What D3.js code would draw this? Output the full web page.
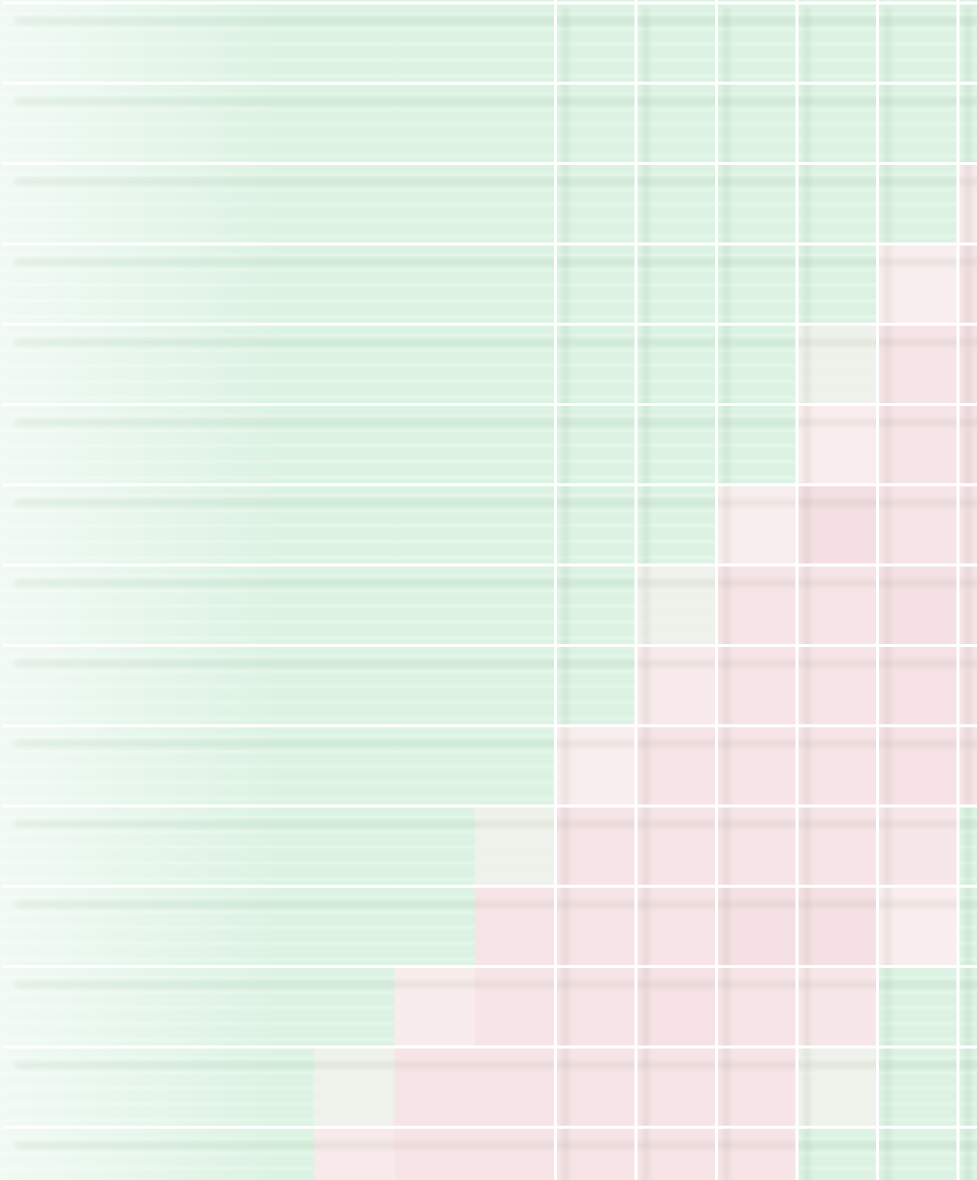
<!DOCTYPE html>
<html>
<head>
<meta charset="utf-8">
<script src="https://cdn.jsdelivr.net/npm/d3@7"></script>
<style>
  html, body { margin: 0; padding: 0; background: #fff; overflow: hidden; }
</style>
</head>
<body>
<svg id="chart" width="977" height="1180"></svg>
<script>
// columns (holding periods) and rows (start cohorts)
const periods = ["P01", "P02", "P03", "P04", "P05", "P06", "P07", "P08", "P09", "P10", "P11", "P12", "P13"];
const cohorts = ["C00", "C01", "C02", "C03", "C04", "C05", "C06", "C07", "C08", "C09", "C10", "C11", "C12", "C13", "C14", "C15"];
// only these columns carry a vertical rule
const ruledPeriods = ["P08", "P09", "P10", "P11", "P12", "P13"];

// cell values, one array per cohort (positive = green, negative = pink)
const returns = [
  [4, 4, 4, 4, 4, 4, 4, 4, 4, 4, 4, 4, 4],
  [4, 4, 4, 4, 4, 4, 4, 4, 4, 4, 4, 4, 4],
  [4, 4, 4, 4, 4, 4, 4, 4, 4, 4, 4, 4, 4],
  [4, 4, 4, 4, 4, 4, 4, 4, 4, 4, 4, 4, -2],
  [4, 4, 4, 4, 4, 4, 4, 4, 4, 4, 4, -1, -3],
  [4, 4, 4, 4, 4, 4, 4, 4, 4, 4, 0, -3, -3.5],
  [4, 4, 4, 4, 4, 4, 4, 4, 4, 4, -1.2, -3, -3.5],
  [4, 4, 4, 4, 4, 4, 4, 4, 4, -1, -4.5, -3, -3],
  [4, 4, 4, 4, 4, 4, 4, 4, 0, -3, -3, -4, -3],
  [4, 4, 4, 4, 4, 4, 4, 4, -2, -3, -3, -3.5, -3],
  [4, 4, 4, 4, 4, 4, 4, -1, -3, -3, -3, -3.5, -3],
  [4, 4, 4, 4, 4, 4, 0, -3, -3, -3, -3, -2.5, 4],
  [4, 4, 4, 4, 4, 4, -3, -3, -3, -4, -4, -1.2, 4],
  [4, 4, 4, 4, 4, -1.5, -3, -3, -3.5, -3, -2.5, 4, 4],
  [4, 4, 4, 4, 0, -3, -3, -3, -3, -3, 0, 4, 4],
  [4, 4, 4, 4, -1.8, -3, -3, -3, -3, -3, 4, 4, 4]
];

const width = 977, height = 1180;
const svg = d3.select("#chart");

const x = d3.scaleBand().domain(periods).range([-8, 1038.5]);
const y = d3.scaleBand().domain(cohorts).range([-77.3, 1207.5]);

const color = d3.scaleLinear()
  .domain([-5, -3, -1, 0, 1])
  .range(["#f3dde0", "#f7e4e6", "#f9eeee", "#eff1eb", "#dcf3e3"])
  .clamp(true);

const defs = svg.append("defs");
defs.append("filter").attr("id", "soft")
  .attr("x", "-5%").attr("y", "-5%").attr("width", "110%").attr("height", "110%")
  .append("feGaussianBlur").attr("stdDeviation", 1);
defs.append("filter").attr("id", "shade")
  .attr("x", "-10%").attr("y", "-10%").attr("width", "120%").attr("height", "120%")
  .append("feGaussianBlur").attr("stdDeviation", 2.2);
defs.append("filter").attr("id", "thin")
  .append("feGaussianBlur").attr("stdDeviation", 0.5);

const fade = defs.append("linearGradient").attr("id", "fade")
  .attr("x1", 0).attr("x2", 1).attr("y1", 0).attr("y2", 0);
fade.append("stop").attr("offset", "0%").attr("stop-color", "#fff").attr("stop-opacity", 0.6);
fade.append("stop").attr("offset", "100%").attr("stop-color", "#fff").attr("stop-opacity", 0);

const cells = [];
returns.forEach((row, i) => {
  row.forEach((v, j) => cells.push({ cohort: cohorts[i], period: periods[j], value: v }));
});

const g = svg.append("g").attr("filter", "url(#soft)");

g.selectAll(".cell")
  .data(cells)
  .join("rect")
  .attr("class", "cell")
  .attr("x", d => x(d.period))
  .attr("y", d => y(d.cohort))
  .attr("width", x.bandwidth() + 0.5)
  .attr("height", y.bandwidth() + 0.5)
  .attr("fill", d => color(d.value));

// light striping inside non-negative cells
const stripeOffsets = [11, 26, 41, 57, 73];
g.selectAll(".stripes")
  .data(cells.filter(d => d.value >= 0))
  .join("g")
  .attr("class", "stripes")
  .selectAll("line")
  .data(d => stripeOffsets.map(o => ({ d: d, o: o })))
  .join("line")
  .attr("x1", s => x(s.d.period))
  .attr("x2", s => x(s.d.period) + x.bandwidth())
  .attr("y1", s => y(s.d.cohort) + s.o)
  .attr("y2", s => y(s.d.cohort) + s.o)
  .attr("stroke", "#f8fdf6")
  .attr("stroke-opacity", s => s.d.value > 0.5 ? 0.5 : 0.3)
  .attr("stroke-width", 2);

// fade toward the left edge
svg.append("rect")
  .attr("x", 0).attr("y", 0)
  .attr("width", 280).attr("height", height)
  .attr("fill", "url(#fade)");

// soft shadows offset from the rules
const shades = svg.append("g").attr("filter", "url(#shade)");
shades.selectAll(".hshade")
  .data(cohorts.slice(1))
  .join("line")
  .attr("class", "hshade")
  .attr("x1", 15).attr("x2", width + 10)
  .attr("y1", d => y(d) + 18).attr("y2", d => y(d) + 18)
  .attr("stroke", "#2a3530").attr("stroke-opacity", 0.065)
  .attr("stroke-width", 6);
shades.selectAll(".vshade")
  .data(ruledPeriods)
  .join("line")
  .attr("class", "vshade")
  .attr("x1", d => x(d) + 10).attr("x2", d => x(d) + 10)
  .attr("y1", 8).attr("y2", height + 10)
  .attr("stroke", "#2a3530").attr("stroke-opacity", 0.065)
  .attr("stroke-width", 6);

// white rules
const rules = svg.append("g").attr("filter", "url(#thin)");
rules.selectAll(".hrule")
  .data(cohorts.slice(1))
  .join("line")
  .attr("class", "hrule")
  .attr("x1", 3).attr("x2", width)
  .attr("y1", d => y(d)).attr("y2", d => y(d))
  .attr("stroke", "#fff").attr("stroke-width", 3);
rules.selectAll(".vrule")
  .data(ruledPeriods)
  .join("line")
  .attr("class", "vrule")
  .attr("x1", d => x(d)).attr("x2", d => x(d))
  .attr("y1", 0).attr("y2", height)
  .attr("stroke", "#fff").attr("stroke-width", 3);
</script>
</body>
</html>
